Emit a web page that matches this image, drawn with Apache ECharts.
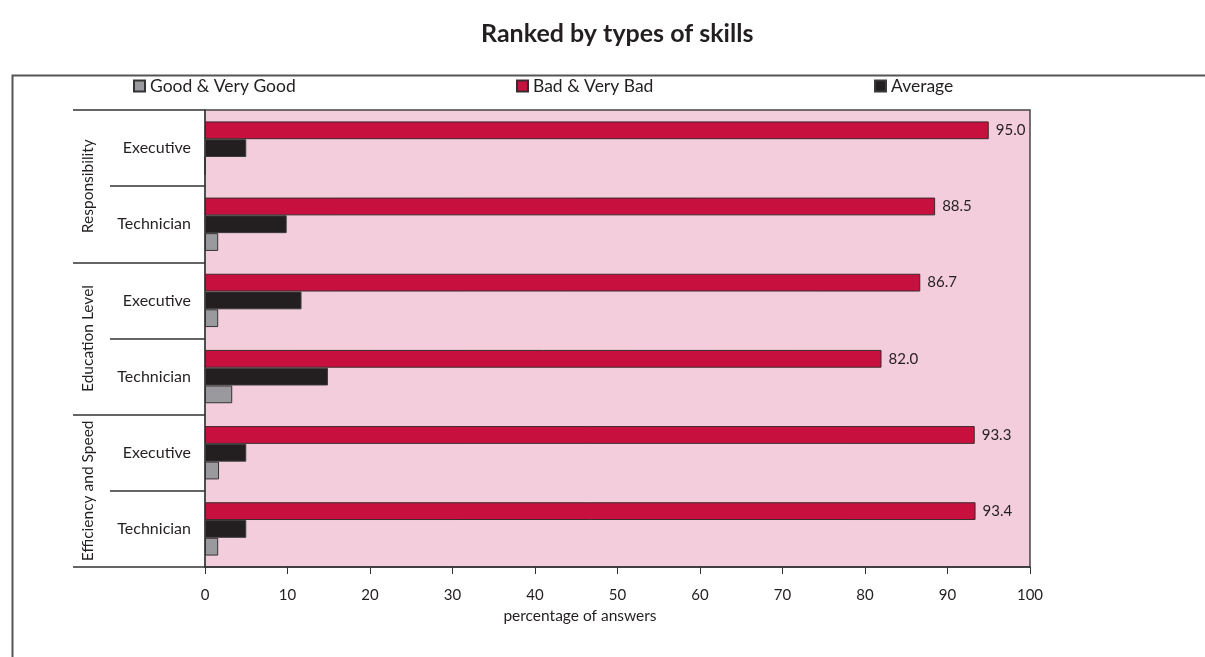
<!DOCTYPE html>
<html>
<head>
<meta charset="utf-8">
<title>Ranked by types of skills</title>
<script src="https://cdn.jsdelivr.net/npm/echarts@6/dist/echarts.min.js"></script>
<style>
  html, body { margin: 0; padding: 0; background: #ffffff; }
  #chart { width: 1205px; height: 657px; }
</style>
</head>
<body>
<div id="chart"></div>
<script>
// Rows, top to bottom
const skillGroups = ['Responsibility', 'Education Level', 'Efficiency and Speed'];
const roles = ['Executive', 'Technician', 'Executive', 'Technician', 'Executive', 'Technician'];

// Share of answers (%) per row, top to bottom
const goodVeryGood = [0, 1.6, 1.6, 3.3, 1.7, 1.6];
const badVeryBad = [95.0, 88.5, 86.7, 82.0, 93.3, 93.4];
const average = [5.0, 9.9, 11.7, 14.9, 5.0, 5.0];

const xTicks = { min: 0, max: 100, interval: 10 };

const FONT = 'Lato, "DejaVu Sans", sans-serif';
const INK = '#231F20';
const COLORS = { good: '#9A9A9E', bad: '#C8103F', avg: '#231F20' };

const chart = echarts.init(document.getElementById('chart'));

const barBase = {
  type: 'bar',
  yAxisIndex: 0,
  barGap: '0%',
  barCategoryGap: '30%'
};

chart.setOption({
  animation: false,
  textStyle: { fontFamily: FONT, color: INK },
  title: {
    text: 'Ranked by types of skills',
    left: 476,
    top: 16,
    textStyle: { fontFamily: FONT, fontSize: 25, fontWeight: 'bold', color: INK }
  },
  legend: [
    { data: ['Good & Very Good'], left: 128, top: 72 },
    { data: ['Bad & Very Bad'], left: 511, top: 72 },
    { data: ['Average'], left: 869, top: 72 }
  ].map(l => Object.assign(l, {
    icon: 'rect',
    itemWidth: 11,
    itemHeight: 11,
    itemGap: 4,
    textStyle: { fontFamily: FONT, fontSize: 17.5, color: INK }
  })),
  graphic: [{
    type: 'rect',
    left: 10,
    top: 73,
    shape: { width: 1400, height: 800 },
    style: { fill: 'none', stroke: '#555', lineWidth: 2 },
    silent: true
  }],
  grid: {
    left: 205,
    right: 175,
    top: 110,
    bottom: 90,
    show: true,
    backgroundColor: '#F3CDDB',
    borderColor: '#444',
    borderWidth: 1.5
  },
  xAxis: {
    type: 'value',
    min: xTicks.min,
    max: xTicks.max,
    interval: xTicks.interval,
    name: 'percentage of answers',
    nameLocation: 'middle',
    nameGap: 41,
    nameTextStyle: { fontFamily: FONT, fontSize: 15.5, color: INK, padding: [0, 75, 0, 0] },
    axisLine: { show: true, lineStyle: { color: '#333', width: 1.5 } },
    axisTick: { show: true, length: 7, lineStyle: { color: '#333' } },
    axisLabel: { fontFamily: FONT, fontSize: 15, color: INK, margin: 21 },
    splitLine: { show: false }
  },
  yAxis: [
    {
      // role within each skill group
      type: 'category',
      data: roles,
      inverse: true,
      position: 'left',
      axisLine: { show: true, lineStyle: { color: '#444', width: 1.5 } },
      axisTick: { show: true, length: 95, lineStyle: { color: '#333', width: 1.5 } },
      axisLabel: { fontFamily: FONT, fontSize: 16, color: INK, margin: 14, interval: 0 }
    },
    {
      // group separators
      type: 'category',
      data: skillGroups,
      inverse: true,
      position: 'left',
      offset: 132,
      axisLine: { show: false },
      axisTick: { show: true, inside: true, length: 132, lineStyle: { color: '#333', width: 1.5 } },
      axisLabel: { show: false }
    },
    {
      // skill group names
      type: 'category',
      data: skillGroups,
      inverse: true,
      position: 'left',
      offset: 100,
      axisLine: { show: false },
      axisTick: { show: false },
      axisLabel: {
        rotate: 90,
        interval: 0,
        hideOverlap: false,
        fontFamily: FONT,
        fontSize: 15.5,
        color: INK,
        margin: 9
      }
    }
  ],
  series: [
    Object.assign({}, barBase, {
      name: 'Bad & Very Bad',
      data: badVeryBad,
      itemStyle: { color: COLORS.bad, borderColor: '#3a2a2e', borderWidth: 1 },
      label: {
        show: true,
        position: 'right',
        distance: 7,
        fontFamily: FONT,
        fontSize: 15,
        color: INK,
        formatter: p => p.value.toFixed(1)
      }
    }),
    Object.assign({}, barBase, {
      name: 'Average',
      data: average,
      itemStyle: { color: COLORS.avg, borderColor: '#3a3a3a', borderWidth: 1 }
    }),
    Object.assign({}, barBase, {
      name: 'Good & Very Good',
      data: goodVeryGood,
      itemStyle: { color: COLORS.good, borderColor: '#333', borderWidth: 1 }
    })
  ]
});
</script>
</body>
</html>
